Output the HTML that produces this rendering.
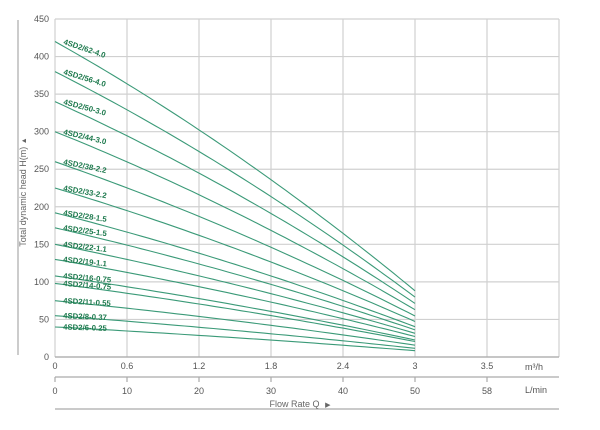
<!DOCTYPE html>
<html><head><meta charset="utf-8"><style>
body{margin:0;background:#fff;}
svg{display:block;font-family:"Liberation Sans",sans-serif;}
</style></head><body>
<svg id="s" width="600" height="430" xmlns="http://www.w3.org/2000/svg">
<g stroke="#d0d0d0" stroke-width="1.2" id="grid"></g>
<g id="curves" fill="none" stroke="#3b9a78" stroke-width="1.1"></g>
<g id="labels" fill="#1e7a4e" font-size="7.8" font-weight="bold"></g>
<g id="ticks" fill="#555" font-size="9"></g>
<line x1="18" y1="20" x2="18" y2="355" stroke="#aaa" stroke-width="1.2"/>
<text transform="translate(26,192) rotate(-90)" text-anchor="middle" font-size="9" fill="#666">Total dynamic head H(m) <tspan font-size="7">▲</tspan></text>
<line x1="55" y1="377" x2="559" y2="377" stroke="#aaa" stroke-width="1.2"/>
<line x1="55" y1="409" x2="559" y2="409" stroke="#aaa" stroke-width="1.2"/>
<text x="300" y="407" text-anchor="middle" font-size="9" fill="#666">Flow Rate Q <tspan font-size="7" dx="3">▶</tspan></text>
<text x="525" y="370" font-size="9" fill="#555">m³/h</text>
<text x="525" y="393" font-size="9" fill="#555">L/min</text>
</svg>
<script>
var NS="http://www.w3.org/2000/svg";
function el(p,n,a,t){var e=document.createElementNS(NS,n);for(var k in a)e.setAttribute(k,a[k]);if(t!==undefined)e.textContent=t;document.getElementById(p).appendChild(e);return e;}
var X0=55,PX=72,Y0=357,PY=338/450;
for(var i=0;i<8;i++){el("grid","line",{x1:X0+i*PX,y1:19,x2:X0+i*PX,y2:Y0});}
for(var v=0;v<=450;v+=50){var y=Y0-v*PY;el("grid","line",{x1:X0,y1:y,x2:559,y2:y});
el("ticks","text",{x:49,y:y+3,"text-anchor":"end"},v);}
el("grid","line",{x1:X0,y1:Y0,x2:559,y2:Y0,stroke:"#aaa"});
var m=["0","0.6","1.2","1.8","2.4","3","3.5"],l=["0","10","20","30","40","50","58"];
for(var i=0;i<7;i++){var x=X0+i*PX;el("ticks","text",{x:x,y:369,"text-anchor":"middle"},m[i]);
el("ticks","text",{x:x,y:394,"text-anchor":"middle"},l[i]);
el("grid","line",{x1:x,y1:377,x2:x,y2:382,stroke:"#aaa"});}
var d=[[420,"4SD2/62-4.0"],[380,"4SD2/56-4.0"],[340,"4SD2/50-3.0"],[300,"4SD2/44-3.0"],[260,"4SD2/38-2.2"],[225,"4SD2/33-2.2"],[192,"4SD2/28-1.5"],[172,"4SD2/25-1.5"],[150,"4SD2/22-1.1"],[130,"4SD2/19-1.1"],[108,"4SD2/16-0.75"],[98,"4SD2/14-0.75"],[75,"4SD2/11-0.55"],[55,"4SD2/8-0.37"],[40,"4SD2/6-0.25"]];
d.forEach(function(c){var H=c[0],p="";for(var k=0;k<=50;k++){var t=k/50;var h=H*(1-0.64*t-0.15*t*t);p+=(k?"L":"M")+(X0+t*360).toFixed(1)+","+(Y0-h*PY).toFixed(1);}
el("curves","path",{d:p});
var s=H*0.64*PY/360;var ang=Math.atan(s*0.6)*180/Math.PI;
var y0=Y0-H*PY;
el("labels","text",{transform:"translate(63,"+(y0+2.5).toFixed(1)+") rotate("+ang.toFixed(1)+")"},c[1]);});
</script>
</body></html>
